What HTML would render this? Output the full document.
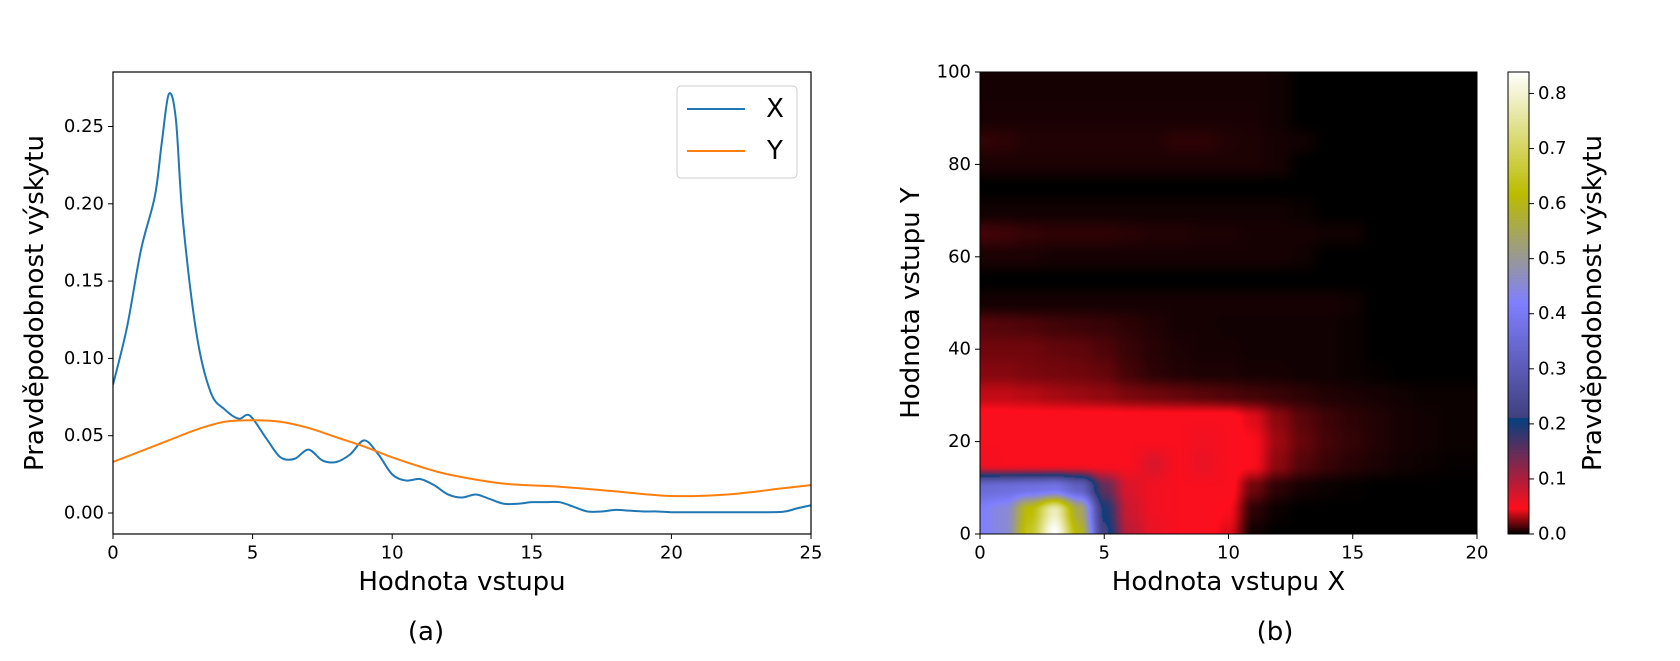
<!DOCTYPE html>
<html><head><meta charset="utf-8">
<style>
html,body{margin:0;padding:0;background:#fff;}
#root{position:relative;width:1680px;height:661px;overflow:hidden;font-family:"DejaVu Sans","Liberation Sans",sans-serif;}
svg text{font-family:"DejaVu Sans","Liberation Sans",sans-serif;fill:#000;}
canvas{position:absolute;}
</style></head>
<body>
<div id="root">
<canvas id="heat" style="left:980px;top:72px" width="497" height="462"></canvas>
<canvas id="cbar" style="left:1508px;top:72px" width="21" height="462"></canvas>
<svg id="svg" width="1680" height="661" style="position:absolute;left:0;top:0"></svg>
</div>
<script>
// ---- line chart data ----
const xGridX = [0,0.5,1,1.5,1.75,2,2.25,2.5,3,3.5,4,4.5,4.9,5.5,6,6.5,7,7.5,8,8.5,9,9.5,10,10.5,11,11.5,12,12.5,13,13.5,14,14.5,15,15.5,16,16.5,17,17.5,18,18.5,19,19.5,20,21,22,23,24,24.5,25];
const seriesX = [0.083,0.12,0.17,0.205,0.24,0.271,0.255,0.19,0.115,0.078,0.067,0.061,0.063,0.048,0.036,0.035,0.041,0.034,0.033,0.038,0.047,0.038,0.025,0.021,0.022,0.018,0.012,0.010,0.012,0.009,0.006,0.006,0.007,0.007,0.007,0.004,0.001,0.001,0.002,0.0015,0.001,0.001,0.0005,0.0005,0.0005,0.0005,0.0008,0.003,0.005];
const xGridY = [0,1,2,3,4,5,6,7,8,9,10,11,12,14,16,18,20,22,24,25];
const seriesY = [0.033,0.040,0.047,0.054,0.059,0.060,0.059,0.055,0.049,0.043,0.036,0.030,0.025,0.019,0.017,0.014,0.011,0.012,0.016,0.018];
const xTicksA = [0,5,10,15,20,25];
const yTicksA = [0,0.05,0.10,0.15,0.20,0.25];
// ---- heatmap data: rows y=0..100 step 5, cols x=0..20 step 1 ----
const heatX = [0,1,2,3,4,5,6,7,8,9,10,11,12,13,14,15,16,17,18,19,20];
const heatY = [0,5,10,15,20,25,30,35,40,45,50,55,60,65,70,75,80,85,90,95,100];
const heatZ = [
[0.42,0.45,0.65,0.84,0.6,0.22,0.09,0.06,0.05,0.05,0.04,0.003,0,0,0,0,0,0,0,0,0],
[0.42,0.45,0.62,0.78,0.55,0.2,0.08,0.055,0.05,0.05,0.045,0.008,0.002,0,0,0,0,0,0,0,0],
[0.35,0.36,0.37,0.38,0.32,0.15,0.07,0.055,0.05,0.05,0.05,0.02,0.008,0.004,0.002,0.001,0,0,0,0,0],
[0.055,0.05,0.05,0.05,0.05,0.05,0.05,0.07,0.05,0.06,0.05,0.045,0.025,0.015,0.01,0.007,0.005,0.003,0.002,0.001,0.001],
[0.05,0.05,0.05,0.05,0.05,0.05,0.05,0.05,0.05,0.055,0.05,0.045,0.028,0.018,0.012,0.009,0.006,0.004,0.003,0.002,0.002],
[0.05,0.05,0.05,0.05,0.05,0.05,0.05,0.05,0.05,0.05,0.05,0.04,0.025,0.016,0.011,0.008,0.006,0.004,0.003,0.002,0.002],
[0.035,0.035,0.033,0.03,0.028,0.026,0.022,0.02,0.018,0.016,0.014,0.012,0.01,0.008,0.006,0.005,0.004,0.003,0.002,0.002,0.002],
[0.024,0.024,0.022,0.021,0.02,0.018,0.012,0.008,0.006,0.005,0.005,0.004,0.004,0.003,0.003,0.002,0.001,0,0,0,0],
[0.02,0.02,0.02,0.018,0.017,0.014,0.01,0.007,0.005,0.004,0.004,0.003,0.003,0.003,0.003,0.002,0,0,0,0,0],
[0.016,0.015,0.014,0.012,0.011,0.01,0.008,0.006,0.004,0.004,0.003,0.003,0.003,0.003,0.003,0.002,0,0,0,0,0],
[0.004,0.004,0.004,0.004,0.004,0.004,0.004,0.004,0.004,0.004,0.004,0.004,0.004,0.004,0.004,0.003,0,0,0,0,0],
[0,0,0,0,0,0,0,0,0,0,0,0,0,0,0,0,0,0,0,0,0],
[0.005,0.005,0.005,0.004,0.004,0.004,0.004,0.004,0.004,0.004,0.004,0.004,0.004,0.003,0,0,0,0,0,0,0],
[0.012,0.011,0.009,0.008,0.008,0.008,0.007,0.006,0.006,0.005,0.005,0.004,0.004,0.004,0.003,0.003,0,0,0,0,0],
[0.003,0.003,0.003,0.003,0.003,0.003,0.003,0.003,0.003,0.003,0.003,0.003,0.003,0.002,0,0,0,0,0,0,0],
[0,0,0,0,0,0,0,0,0,0,0,0,0,0,0,0,0,0,0,0,0],
[0.005,0.005,0.005,0.005,0.005,0.005,0.005,0.005,0.005,0.005,0.005,0.005,0.004,0,0,0,0,0,0,0,0],
[0.009,0.008,0.006,0.006,0.006,0.006,0.006,0.006,0.008,0.008,0.006,0.005,0.004,0.003,0,0,0,0,0,0,0],
[0.0045,0.0045,0.0045,0.0045,0.0045,0.0045,0.0045,0.0045,0.0045,0.0045,0.0045,0.0045,0.003,0,0,0,0,0,0,0,0],
[0.004,0.004,0.004,0.004,0.004,0.004,0.004,0.004,0.004,0.004,0.004,0.004,0.003,0,0,0,0,0,0,0,0],
[0.004,0.004,0.004,0.004,0.004,0.004,0.004,0.004,0.004,0.004,0.004,0.004,0.003,0,0,0,0,0,0,0,0]
];
const xTicksB = [0,5,10,15,20];
const yTicksB = [0,20,40,60,80,100];
const cbTicks = [0.0,0.1,0.2,0.3,0.4,0.5,0.6,0.7,0.8];
const cbMax = 0.839;

const NS='http://www.w3.org/2000/svg';
const svg=document.getElementById('svg');
function mk(tag,attrs,parent){const e=document.createElementNS(NS,tag);for(const k in attrs)e.setAttribute(k,attrs[k]);(parent||svg).appendChild(e);return e;}
function txt(s,x,y,size,anchor,name,rot){const t=mk('text',{x:x,y:y,'font-size':size,'text-anchor':anchor||'middle','dominant-baseline':'central'});t.textContent=s;


if(rot)t.setAttribute('transform','rotate(-90 '+x+' '+y+')');return t;}

// ---- panel a ----
const A={l:113,r:811,t:72,b:534};
const ax=v=>A.l+v/25*(A.r-A.l);
const ay=v=>513-v/0.05*77.3;
function smoothPath(xs,ys){
  const p=xs.map((x,i)=>[ax(x),ay(ys[i])]);
  let d='M'+p[0][0]+','+p[0][1];
  for(let i=0;i<p.length-1;i++){
    const p0=p[Math.max(0,i-1)],p1=p[i],p2=p[i+1],p3=p[Math.min(p.length-1,i+2)];
    const c1=[p1[0]+(p2[0]-p0[0])/6,p1[1]+(p2[1]-p0[1])/6];
    const c2=[p2[0]-(p3[0]-p1[0])/6,p2[1]-(p3[1]-p1[1])/6];
    d+=' C'+c1[0]+','+c1[1]+' '+c2[0]+','+c2[1]+' '+p2[0]+','+p2[1];
  }
  return d;
}
const clip=mk('clipPath',{id:'clipA'});mk('rect',{x:A.l,y:A.t,width:A.r-A.l,height:A.b-A.t},clip);
const lx=mk('path',{d:smoothPath(xGridX,seriesX),fill:'none',stroke:'#1f77b4','stroke-width':2,'clip-path':'url(#clipA)'});

const ly=mk('path',{d:smoothPath(xGridY,seriesY),fill:'none',stroke:'#ff7f0e','stroke-width':2,'clip-path':'url(#clipA)'});

const fa=mk('rect',{x:A.l,y:A.t,width:A.r-A.l,height:A.b-A.t,fill:'none',stroke:'#000','stroke-width':1.2});

xTicksA.forEach(v=>{mk('line',{x1:ax(v),x2:ax(v),y1:A.b,y2:A.b+5,stroke:'#000'});txt(String(v),ax(v),A.b+19,18,'middle','x-tick-a');});
yTicksA.forEach(v=>{mk('line',{x1:A.l-5,x2:A.l,y1:ay(v),y2:ay(v),stroke:'#000'});txt(v.toFixed(2),A.l-9,ay(v),18,'end','y-tick-a');});
txt('Hodnota vstupu',ax(12.5),582,26,'middle','x-axis-title-a');
txt('Pravděpodobnost výskytu',35,303,26,'middle','y-axis-title-a',true);
txt('(a)',426,632,26,'middle','caption-a');
// legend
const lg=mk('rect',{x:677,y:86,width:120,height:92,rx:4,fill:'#fff',stroke:'#ccc','stroke-width':1});

mk('line',{x1:687,x2:745,y1:109,y2:109,stroke:'#1f77b4','stroke-width':2});
txt('X',775,109,26,'middle','legend-entry-x');
mk('line',{x1:687,x2:745,y1:151,y2:151,stroke:'#ff7f0e','stroke-width':2});
txt('Y',775,151,26,'middle','legend-entry-y');

// ---- panel b ----
const B={l:980,r:1477,t:72,b:534};
const bx=v=>B.l+v/20*(B.r-B.l);
const by=v=>B.b-v/100*(B.b-B.t);
function lerp(a,b,t){return a+(b-a)*t;}
function interp(pts,t){for(let i=0;i<pts.length-1;i++){if(t<=pts[i+1][0]){const f=(t-pts[i][0])/(pts[i+1][0]-pts[i][0]||1);return lerp(pts[i][1],pts[i+1][1],f);}}return pts[pts.length-1][1];}
const R=[[0,0],[0.0547,1],[0.25,0.027],[0.25,0.25],[1,1]];
const G=[[0,0],[1,1]];
const Bc=[[0,0],[0.5,1],[0.735,0],[1,1]];
function cmap(v){const t=Math.max(0,Math.min(1,v/cbMax));return [interp(R,t)*255,interp(G,t)*255,interp(Bc,t)*255];}
function sample(x,y){
  const nx=heatX.length-1, ny=heatY.length-1;
  let fx=x/(heatX[nx]-heatX[0])*nx, fy=y/(heatY[ny]-heatY[0])*ny;
  let i=Math.min(nx-1,Math.floor(fx)), j=Math.min(ny-1,Math.floor(fy));
  const tx=fx-i, ty=fy-j;
  const sx=tx*tx*(3-2*tx), sy=ty*ty*(3-2*ty);
  const a=heatZ[j][i],b=heatZ[j][i+1],c=heatZ[j+1][i],d=heatZ[j+1][i+1];
  return lerp(lerp(a,b,sx),lerp(c,d,sx),sy);
}
(function(){
  const cv=document.getElementById('heat'),ctx=cv.getContext('2d');
  const W=cv.width,H=cv.height,img=ctx.createImageData(W,H);
  for(let py=0;py<H;py++){const yv=(H-0.5-py)/H*100;
    for(let px=0;px<W;px++){const xv=(px+0.5)/W*20;const c=cmap(sample(xv,yv));const k=(py*W+px)*4;
      img.data[k]=c[0];img.data[k+1]=c[1];img.data[k+2]=c[2];img.data[k+3]=255;}}
  ctx.putImageData(img,0,0);
  const cb=document.getElementById('cbar'),c2=cb.getContext('2d');
  for(let py=0;py<cb.height;py++){const v=(cb.height-0.5-py)/cb.height*cbMax;const c=cmap(v);
    c2.fillStyle='rgb('+c.map(Math.round).join(',')+')';c2.fillRect(0,py,cb.width,1);}
})();
const fb=mk('rect',{x:B.l,y:B.t,width:B.r-B.l,height:B.b-B.t,fill:'none',stroke:'#000','stroke-width':1});

xTicksB.forEach(v=>{mk('line',{x1:bx(v),x2:bx(v),y1:B.b,y2:B.b+5,stroke:'#000'});txt(String(v),bx(v),B.b+19,18,'middle','x-tick-b');});
yTicksB.forEach(v=>{mk('line',{x1:B.l-5,x2:B.l,y1:by(v),y2:by(v),stroke:'#000'});txt(String(v),B.l-9,by(v),18,'end','y-tick-b');});
txt('Hodnota vstupu X',bx(10),582,26,'middle','x-axis-title-b');
txt('Hodnota vstupu Y',911,303,26,'middle','y-axis-title-b',true);
txt('(b)',1275,632,26,'middle','caption-b');
const cbf=mk('rect',{x:1508,y:72,width:21,height:462,fill:'none',stroke:'#000','stroke-width':1});

const cy=v=>534-v/cbMax*462;
cbTicks.forEach(v=>{mk('line',{x1:1529,x2:1534,y1:cy(v),y2:cy(v),stroke:'#000'});txt(v.toFixed(1),1538,cy(v),18,'start','colorbar-tick');});
txt('Pravděpodobnost výskytu',1593,303,26,'middle','colorbar-title',true);
</script>
</body></html>
